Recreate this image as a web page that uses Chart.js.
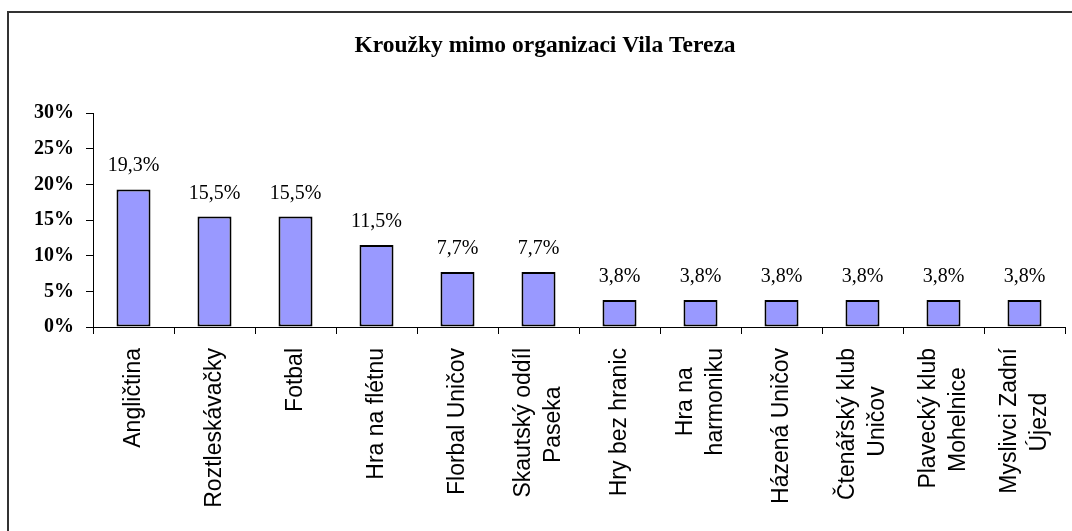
<!DOCTYPE html>
<html>
<head>
<meta charset="utf-8">
<script src="https://cdn.jsdelivr.net/npm/chart.js@4/dist/chart.umd.min.js"></script>
<style>
  html, body { margin: 0; padding: 0; background: #fff; overflow: hidden; }
  #wrap { position: relative; width: 1072px; height: 531px; }
  #frame { position: absolute; left: 7px; top: 11px; width: 2000px; height: 2000px;
           border-left: 2px solid #333; border-top: 2px solid #333; box-sizing: border-box; }
  canvas { position: absolute; left: 0; top: 0; }
</style>
</head>
<body>
<div id="wrap">
  <div id="frame"></div>
  <canvas id="c" width="1072" height="531"></canvas>
</div>
<script>
const chartTitle = "Kroužky mimo organizaci Vila Tereza";
const categories = [
  ["Angličtina"],
  ["Roztleskávačky"],
  ["Fotbal"],
  ["Hra na flétnu"],
  ["Florbal Uničov"],
  ["Skautský oddíl", "Paseka"],
  ["Hry bez hranic"],
  ["Hra na", "harmoniku"],
  ["Házená Uničov"],
  ["Čtenářský klub", "Uničov"],
  ["Plavecký klub", "Mohelnice"],
  ["Myslivci Zadní", "Újezd"]
];
const shares = [19.3, 15.5, 15.5, 11.5, 7.7, 7.7, 3.8, 3.8, 3.8, 3.8, 3.8, 3.8];
const yTicks = [0, 5, 10, 15, 20, 25, 30];

const X_FONT = '23px "Liberation Sans"';
const measureCtx = document.createElement('canvas').getContext('2d');
measureCtx.font = X_FONT;
const spaceW = measureCtx.measureText(' ').width;

// Build lines so multi-line labels are centred on their category and lines centred along their length
function labelLines(lines) {
  if (lines.length === 1) return ['', lines[0]];
  const widths = lines.map(l => measureCtx.measureText(l).width);
  const maxW = Math.max(...widths);
  const padded = lines.map((l, i) => l + ' '.repeat(Math.round((maxW - widths[i]) / 2 / spaceW)));
  return [padded[0], '', padded[1]];
}

const fmt = v => v.toFixed(1).replace('.', ',') + '%';

const valueLabels = {
  id: 'valueLabels',
  afterDatasetsDraw(chart) {
    const ctx = chart.ctx;
    const meta = chart.getDatasetMeta(0);
    ctx.save();
    ctx.font = '20px "Liberation Serif"';
    ctx.fillStyle = '#000';
    ctx.textAlign = 'center';
    ctx.textBaseline = 'alphabetic';
    meta.data.forEach((bar, i) => {
      ctx.fillText(fmt(shares[i]), bar.x, bar.y - 18);
    });
    ctx.restore();
  }
};

new Chart(document.getElementById('c'), {
  type: 'bar',
  data: {
    labels: categories,
    datasets: [{
      data: shares,
      backgroundColor: '#9999FF',
      borderColor: '#000000',
      borderWidth: 2,
      borderSkipped: false,
      categoryPercentage: 1,
      barPercentage: 0.42
    }]
  },
  options: {
    responsive: false,
    animation: false,
    devicePixelRatio: 1,
    layout: { padding: { left: 25, right: 7, top: 0, bottom: 0 } },
    plugins: {
      legend: { display: false },
      tooltip: { enabled: false },
      title: {
        display: true,
        text: chartTitle,
        color: '#000',
        font: { family: '"Liberation Serif"', size: 23.5, weight: 'bold', lineHeight: 1.2 },
        padding: { top: 32, bottom: 53 }
      }
    },
    scales: {
      x: {
        grid: { display: true, drawOnChartArea: false, drawTicks: true, tickLength: 7, tickColor: '#000', offset: true },
        border: { display: true, color: '#000', width: 1 },
        ticks: {
          autoSkip: false,
          minRotation: 90,
          maxRotation: 90,
          padding: 14,
          labelOffset: -15,
          color: '#000',
          font: { family: '"Liberation Sans"', size: 23, lineHeight: '15px' },
          callback: function(value, index) { return labelLines(categories[index]); }
        },
        afterFit: s => { s.height = 204; s.paddingLeft = 0; s.paddingRight = 0; }
      },
      y: {
        min: 0,
        max: 30,
        grid: { display: true, drawOnChartArea: false, drawTicks: true, tickLength: 7, tickColor: '#000' },
        border: { display: true, color: '#000', width: 1 },
        afterBuildTicks: s => { s.ticks = yTicks.map(v => ({ value: v })); },
        ticks: {
          padding: 12,
          color: '#000',
          font: { family: '"Liberation Serif"', size: 20, weight: 'bold' },
          callback: v => v + '%'
        },
        afterFit: s => { s.width = 68; s.paddingTop = 0; s.paddingBottom = 0; }
      }
    }
  },
  plugins: [valueLabels]
});
</script>
</body>
</html>
